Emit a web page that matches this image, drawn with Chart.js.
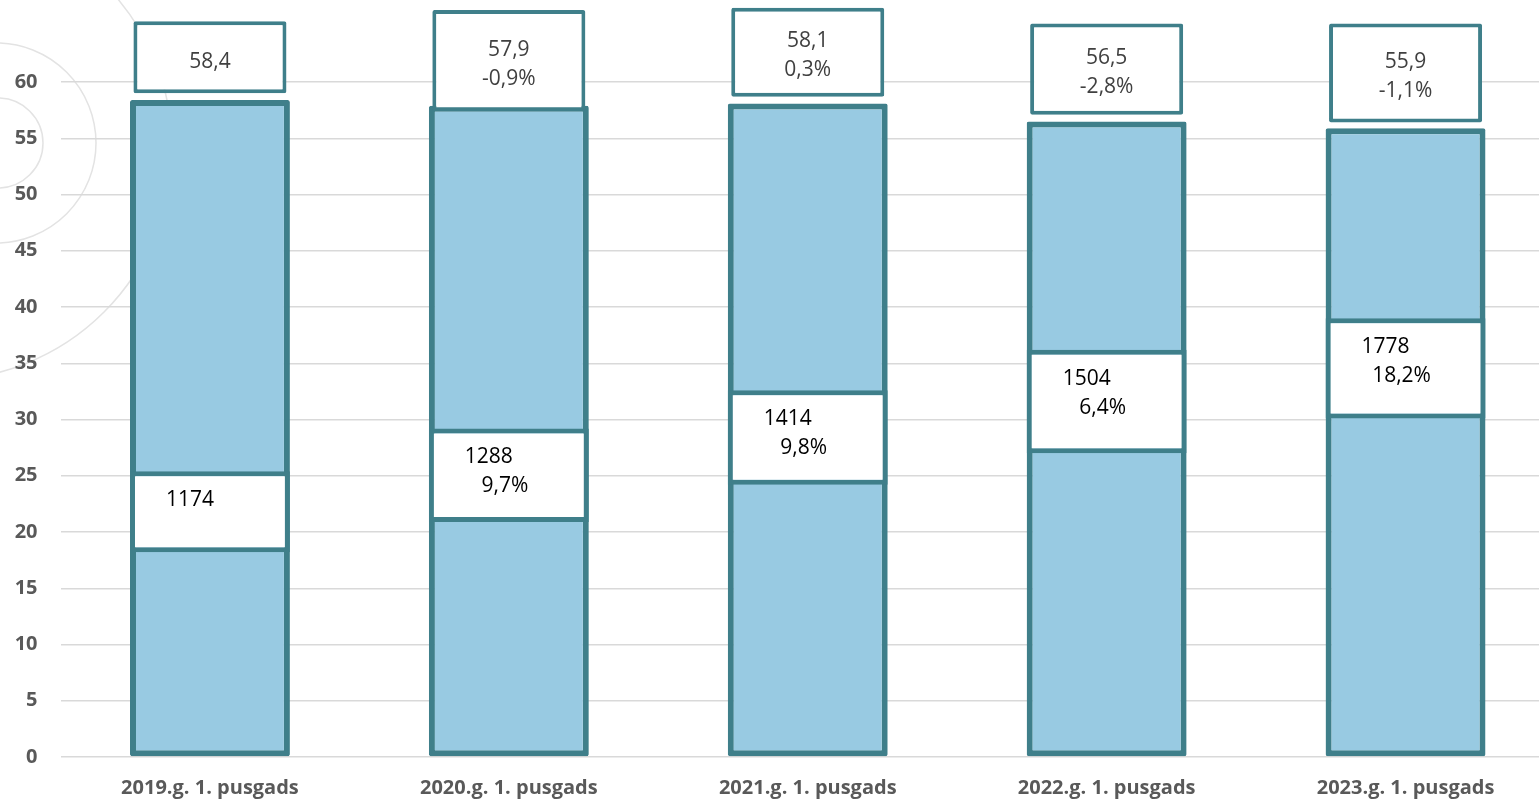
<!DOCTYPE html>
<html>
<head>
<meta charset="utf-8">
<script src="https://cdn.jsdelivr.net/npm/chart.js@4.4.1/dist/chart.umd.min.js"></script>
<style>
  html, body { margin: 0; padding: 0; background: #ffffff; overflow: hidden; width: 1539px; height: 799px; }
  #wrap { position: absolute; left: 0; top: 0; width: 1560px; height: 799px; }
  canvas { display: block; }
</style>
</head>
<body>
<div id="wrap"><canvas id="c" width="1560" height="799"></canvas></div>
<script>
// ---- data ----
const categories = ['2019.g. 1. pusgads', '2020.g. 1. pusgads', '2021.g. 1. pusgads', '2022.g. 1. pusgads', '2023.g. 1. pusgads'];
const shareValues = [58.4, 57.9, 58.1, 56.5, 55.9];
const shareLabels = ['58,4', '57,9', '58,1', '56,5', '55,9'];
const shareChange = ['', '-0,9%', '0,3%', '-2,8%', '-1,1%'];
const wageValues = [1174, 1288, 1414, 1504, 1778];
const wageChange = ['', '9,7%', '9,8%', '6,4%', '18,2%'];
const yTicks = [0, 5, 10, 15, 20, 25, 30, 35, 40, 45, 50, 55, 60];
// label boxes (extent on the value axis)
const topBoxLow  = [59.0, 57.4, 58.7, 57.1, 56.4];
const topBoxHigh = [65.4, 66.4, 66.6, 65.2, 65.2];
const innerBoxLow  = [18.2, 20.9, 24.2, 27.0, 30.1];
const innerBoxHigh = [25.4, 29.2, 32.6, 36.2, 39.0];

const TEAL = '#3F7F8A';
const FILL = '#98CAE2';
const FONT = "'Open Sans', 'DejaVu Sans', sans-serif";

const bgCircles = {
  id: 'bgCircles',
  beforeDraw(chart) {
    const ctx = chart.ctx;
    ctx.save();
    ctx.strokeStyle = '#E3E3E3';
    ctx.lineWidth = 1.5;
    [[-2, 143, 45], [-4, 143, 100], [-60, 148, 232]].forEach(([x, y, r]) => {
      ctx.beginPath();
      ctx.arc(x, y, r, 0, Math.PI * 2);
      ctx.stroke();
    });
    ctx.restore();
  }
};

const boxText = {
  id: 'boxText',
  afterDatasetsDraw(chart) {
    const ctx = chart.ctx;
    ctx.save();
    ctx.textAlign = 'center';
    ctx.textBaseline = 'middle';
    // top boxes
    const topMeta = chart.getDatasetMeta(2);
    topMeta.data.forEach((el, i) => {
      const cx = el.x;
      const cy = (el.y + el.base) / 2;
      ctx.fillStyle = '#404040';
      ctx.font = '21px ' + FONT;
      if (shareChange[i]) {
        ctx.fillText(shareLabels[i], cx, cy - 11);
        ctx.fillText(shareChange[i], cx, cy + 18);
      } else {
        ctx.fillText(shareLabels[i], cx, cy + 5);
      }
    });
    // inner boxes
    const inMeta = chart.getDatasetMeta(1);
    inMeta.data.forEach((el, i) => {
      const top = Math.min(el.y, el.base);
      ctx.fillStyle = '#000000';
      ctx.font = '21px ' + FONT;
      ctx.fillText(String(wageValues[i]), el.x - 20, top + 29);
      if (wageChange[i]) ctx.fillText(wageChange[i], el.x - 4, top + 58);
    });
    ctx.restore();
  }
};

const ctx = document.getElementById('c').getContext('2d');
new Chart(ctx, {
  type: 'bar',
  data: {
    labels: categories,
    datasets: [
      {
        label: 'share',
        data: shareValues,
        backgroundColor: FILL,
        borderColor: TEAL,
        borderWidth: 6,
        borderSkipped: false,
        borderRadius: 2,
        barPercentage: 0.535,
        categoryPercentage: 1.0,
        grouped: false,
        order: 3
      },
      {
        label: 'wage',
        data: innerBoxLow.map((v, i) => [v, innerBoxHigh[i]]),
        backgroundColor: '#FFFFFF',
        borderColor: TEAL,
        borderWidth: 5,
        borderSkipped: false,
        barPercentage: 0.535,
        categoryPercentage: 1.0,
        grouped: false,
        order: 2
      },
      {
        label: 'shareBox',
        data: topBoxLow.map((v, i) => [v, topBoxHigh[i]]),
        backgroundColor: '#FFFFFF',
        borderColor: TEAL,
        borderWidth: 4,
        borderSkipped: false,
        borderRadius: 2,
        barPercentage: 0.512,
        categoryPercentage: 1.0,
        grouped: false,
        order: 1
      }
    ]
  },
  options: {
    responsive: false,
    animation: false,
    devicePixelRatio: 1,
    layout: { padding: { left: 0, right: 5, top: 0, bottom: 0 } },
    plugins: { legend: { display: false }, tooltip: { enabled: false } },
    scales: {
      x: {
        grid: { display: false, drawTicks: false },
        border: { display: false },
        ticks: {
          color: '#595959',
          font: { family: FONT, size: 20, weight: 'bold' },
          padding: 19,
          maxRotation: 0,
          autoSkip: false
        },
        afterFit(scale) {
          scale.height = 42;
          scale.paddingLeft = 0; scale.paddingRight = 0;
          scale.paddingTop = 0; scale.paddingBottom = 0;
        }
      },
      y: {
        min: 0,
        max: 67.29,
        grid: { color: '#D9D9D9', lineWidth: 1.5, drawTicks: false },
        border: { display: false },
        afterBuildTicks(scale) { scale.ticks = yTicks.map(v => ({ value: v })); },
        ticks: {
          color: '#595959',
          font: { family: FONT, size: 20, weight: 'bold' },
          padding: 23
        },
        afterFit(scale) {
          scale.width = 60.5;
          scale.paddingTop = 0; scale.paddingBottom = 0;
          scale.paddingLeft = 0; scale.paddingRight = 0;
        }
      }
    }
  },
  plugins: [bgCircles, boxText]
});
</script>
</body>
</html>
